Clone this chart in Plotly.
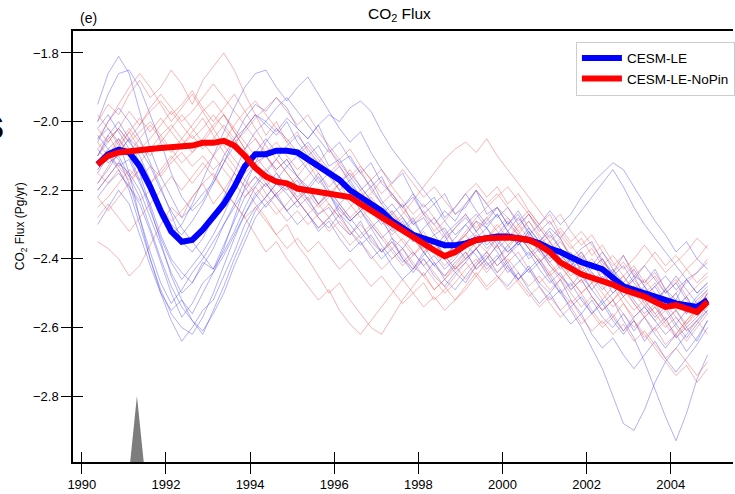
import numpy as np
import plotly.graph_objects as go

# ---------------- data ----------------
years = 1990.375 + 0.25 * np.arange(59)

mean_le = [
    -2.125, -2.095, -2.082, -2.090, -2.130, -2.190, -2.260, -2.320, -2.350, -2.345,
    -2.315, -2.280, -2.240, -2.190, -2.130, -2.095, -2.095, -2.085, -2.085, -2.090,
    -2.110, -2.130, -2.150, -2.170, -2.200, -2.220, -2.240, -2.260, -2.290, -2.310,
    -2.330, -2.340, -2.350, -2.360, -2.360, -2.355, -2.345, -2.340, -2.335, -2.335,
    -2.340, -2.345, -2.355, -2.370, -2.380, -2.395, -2.410, -2.420, -2.430, -2.455,
    -2.480, -2.490, -2.500, -2.510, -2.520, -2.530, -2.535, -2.540, -2.520]

mean_nopin = [
    -2.125, -2.100, -2.090, -2.088, -2.085, -2.080, -2.077, -2.075, -2.072, -2.070,
    -2.062, -2.062, -2.056, -2.070, -2.100, -2.135, -2.160, -2.175, -2.180, -2.195,
    -2.200, -2.205, -2.210, -2.212, -2.220, -2.240, -2.260, -2.280, -2.300, -2.315,
    -2.335, -2.355, -2.375, -2.392, -2.380, -2.360, -2.345, -2.340, -2.338, -2.338,
    -2.340, -2.345, -2.360, -2.380, -2.410, -2.430, -2.445, -2.455, -2.465, -2.475,
    -2.490, -2.500, -2.510, -2.525, -2.540, -2.535, -2.545, -2.555, -2.525]

le_members = [
    [-1.95, -1.86, -1.81, -1.86, -1.97, -2.08, -2.16, -2.22, -2.28, -2.25,
     -2.21, -2.18, -2.12, -2.05, -1.99, -1.95, -1.97, -1.93, -1.96, -2.02,
     -2.05, -2.01, -2.08, -2.12, -2.10, -2.15, -2.19, -2.16, -2.22, -2.25,
     -2.21, -2.27, -2.30, -2.26, -2.29, -2.24, -2.20, -2.27, -2.25, -2.30,
     -2.26, -2.31, -2.35, -2.31, -2.34, -2.40, -2.37, -2.35, -2.41, -2.44,
     -2.39, -2.45, -2.47, -2.43, -2.49, -2.52, -2.46, -2.50, -2.47],
    [-2.05, -2.02, -2.06, -2.15, -2.28, -2.40, -2.50, -2.58, -2.64, -2.60,
     -2.55, -2.52, -2.45, -2.38, -2.30, -2.25, -2.22, -2.18, -2.20, -2.17,
     -2.23, -2.27, -2.25, -2.30, -2.33, -2.29, -2.35, -2.38, -2.34, -2.40,
     -2.43, -2.38, -2.42, -2.45, -2.41, -2.38, -2.43, -2.40, -2.36, -2.42,
     -2.46, -2.43, -2.48, -2.52, -2.49, -2.55, -2.60, -2.66, -2.72, -2.80,
     -2.88, -2.90, -2.84, -2.76, -2.70, -2.66, -2.62, -2.58, -2.55],
    [-2.00, -1.92, -1.86, -1.85, -1.90, -1.98, -2.06, -2.15, -2.22, -2.26,
     -2.23, -2.17, -2.10, -2.05, -2.02, -1.98, -2.01, -2.04, -2.00, -2.06,
     -2.10, -2.07, -2.13, -2.11, -2.16, -2.20, -2.17, -2.23, -2.27, -2.24,
     -2.30, -2.28, -2.33, -2.31, -2.36, -2.33, -2.29, -2.31, -2.27, -2.32,
     -2.36, -2.33, -2.38, -2.35, -2.40, -2.38, -2.44, -2.41, -2.46, -2.43,
     -2.49, -2.45, -2.51, -2.48, -2.53, -2.50, -2.56, -2.52, -2.49],
    [-2.30, -2.25, -2.20, -2.24, -2.33, -2.42, -2.50, -2.55, -2.52, -2.58,
     -2.62, -2.55, -2.48, -2.40, -2.33, -2.26, -2.22, -2.18, -2.21, -2.25,
     -2.22, -2.28, -2.31, -2.27, -2.32, -2.36, -2.33, -2.38, -2.35, -2.40,
     -2.44, -2.40, -2.45, -2.48, -2.44, -2.47, -2.42, -2.39, -2.44, -2.41,
     -2.46, -2.43, -2.40, -2.45, -2.50, -2.47, -2.52, -2.56, -2.53, -2.58,
     -2.62, -2.58, -2.64, -2.60, -2.57, -2.63, -2.60, -2.64, -2.58],
    [-2.10, -2.05, -2.02, -2.06, -2.10, -2.17, -2.25, -2.30, -2.33, -2.29,
     -2.24, -2.18, -2.12, -2.07, -2.02, -1.98, -2.00, -2.03, -1.99, -2.02,
     -2.05, -2.01, -1.98, -2.00, -1.96, -1.94, -1.97, -2.03, -2.08, -2.12,
     -2.16, -2.20, -2.24, -2.21, -2.27, -2.25, -2.20, -2.24, -2.28, -2.25,
     -2.30, -2.27, -2.32, -2.29, -2.34, -2.30, -2.26, -2.22, -2.18, -2.14,
     -2.19, -2.25, -2.30, -2.34, -2.38, -2.42, -2.46, -2.44, -2.41],
    [-2.15, -2.10, -2.13, -2.11, -2.18, -2.24, -2.33, -2.40, -2.44, -2.47,
     -2.42, -2.37, -2.30, -2.24, -2.17, -2.12, -2.10, -2.14, -2.11, -2.16,
     -2.19, -2.15, -2.20, -2.24, -2.21, -2.26, -2.23, -2.28, -2.32, -2.29,
     -2.35, -2.31, -2.28, -2.33, -2.30, -2.27, -2.32, -2.29, -2.25, -2.30,
     -2.27, -2.33, -2.30, -2.26, -2.30, -2.27, -2.22, -2.18, -2.15, -2.12,
     -2.14, -2.19, -2.24, -2.29, -2.33, -2.38, -2.35, -2.40, -2.43],
    [-2.08, -2.12, -2.10, -2.16, -2.22, -2.31, -2.40, -2.48, -2.54, -2.58,
     -2.61, -2.56, -2.50, -2.42, -2.35, -2.28, -2.24, -2.21, -2.18, -2.22,
     -2.19, -2.24, -2.21, -2.26, -2.29, -2.26, -2.31, -2.28, -2.34, -2.37,
     -2.33, -2.38, -2.42, -2.39, -2.36, -2.40, -2.37, -2.42, -2.39, -2.44,
     -2.41, -2.38, -2.43, -2.47, -2.44, -2.49, -2.46, -2.51, -2.55, -2.52,
     -2.58, -2.63, -2.70, -2.78, -2.86, -2.93, -2.85, -2.75, -2.68],
    [-2.20, -2.16, -2.12, -2.15, -2.20, -2.28, -2.36, -2.44, -2.50, -2.47,
     -2.41, -2.43, -2.36, -2.29, -2.22, -2.18, -2.14, -2.17, -2.13, -2.16,
     -2.20, -2.24, -2.21, -2.27, -2.30, -2.34, -2.31, -2.36, -2.40, -2.37,
     -2.42, -2.45, -2.41, -2.46, -2.49, -2.45, -2.41, -2.38, -2.42, -2.39,
     -2.35, -2.40, -2.37, -2.42, -2.45, -2.48, -2.44, -2.49, -2.53, -2.50,
     -2.47, -2.52, -2.56, -2.53, -2.58, -2.55, -2.60, -2.57, -2.53],
    [-2.06, -2.00, -1.96, -2.00, -2.05, -2.12, -2.19, -2.27, -2.35, -2.38,
     -2.34, -2.28, -2.22, -2.15, -2.08, -2.03, -2.00, -1.96, -1.93, -1.97,
     -2.01, -2.05, -2.09, -2.06, -2.11, -2.15, -2.12, -2.18, -2.21, -2.25,
     -2.22, -2.27, -2.24, -2.29, -2.33, -2.30, -2.34, -2.31, -2.36, -2.32,
     -2.28, -2.32, -2.36, -2.40, -2.37, -2.42, -2.39, -2.44, -2.47, -2.44,
     -2.49, -2.46, -2.42, -2.46, -2.50, -2.47, -2.52, -2.55, -2.50],
    [-2.12, -2.08, -2.11, -2.18, -2.28, -2.38, -2.47, -2.53, -2.49, -2.44,
     -2.40, -2.35, -2.30, -2.25, -2.20, -2.16, -2.19, -2.15, -2.19, -2.23,
     -2.20, -2.16, -2.21, -2.25, -2.29, -2.26, -2.30, -2.34, -2.31, -2.28,
     -2.33, -2.37, -2.34, -2.39, -2.43, -2.40, -2.37, -2.34, -2.38, -2.43,
     -2.46, -2.42, -2.47, -2.50, -2.46, -2.52, -2.56, -2.52, -2.57, -2.60,
     -2.56, -2.61, -2.57, -2.62, -2.66, -2.62, -2.67, -2.63, -2.58],
    [-2.18, -2.14, -2.09, -2.05, -2.08, -2.13, -2.20, -2.26, -2.31, -2.35,
     -2.39, -2.43, -2.38, -2.32, -2.25, -2.19, -2.15, -2.11, -2.07, -2.04,
     -2.08, -2.12, -2.16, -2.13, -2.18, -2.22, -2.19, -2.24, -2.28, -2.32,
     -2.29, -2.34, -2.38, -2.35, -2.31, -2.28, -2.32, -2.36, -2.33, -2.29,
     -2.33, -2.37, -2.41, -2.38, -2.43, -2.40, -2.45, -2.49, -2.45, -2.50,
     -2.47, -2.43, -2.48, -2.52, -2.49, -2.54, -2.51, -2.56, -2.52],
    [-2.02, -1.98, -2.03, -2.08, -2.15, -2.25, -2.35, -2.45, -2.52, -2.56,
     -2.50, -2.44, -2.37, -2.28, -2.19, -2.12, -2.06, -2.02, -2.05, -2.09,
     -2.06, -2.10, -2.14, -2.18, -2.15, -2.19, -2.23, -2.27, -2.24, -2.28,
     -2.32, -2.36, -2.33, -2.37, -2.34, -2.30, -2.27, -2.31, -2.35, -2.38,
     -2.35, -2.39, -2.36, -2.33, -2.37, -2.41, -2.45, -2.42, -2.38, -2.43,
     -2.47, -2.51, -2.48, -2.53, -2.49, -2.45, -2.49, -2.53, -2.56],
    [-2.10, -2.04, -2.00, -2.05, -2.12, -2.20, -2.28, -2.33, -2.30, -2.24,
     -2.17, -2.10, -2.03, -1.96, -1.90, -1.86, -1.85, -1.90, -1.94, -1.90,
     -1.87, -1.92, -1.97, -2.02, -2.06, -2.03, -2.09, -2.14, -2.18, -2.15,
     -2.21, -2.25, -2.22, -2.28, -2.25, -2.21, -2.26, -2.30, -2.27, -2.32,
     -2.36, -2.32, -2.37, -2.41, -2.38, -2.43, -2.40, -2.45, -2.49, -2.46,
     -2.51, -2.48, -2.53, -2.57, -2.54, -2.59, -2.55, -2.51, -2.48],
    [-2.14, -2.10, -2.14, -2.20, -2.30, -2.40, -2.49, -2.56, -2.60, -2.62,
     -2.57, -2.50, -2.42, -2.34, -2.27, -2.21, -2.25, -2.21, -2.26, -2.30,
     -2.27, -2.32, -2.29, -2.34, -2.38, -2.35, -2.40, -2.37, -2.42, -2.46,
     -2.43, -2.39, -2.35, -2.40, -2.44, -2.41, -2.37, -2.41, -2.45, -2.48,
     -2.44, -2.49, -2.53, -2.50, -2.55, -2.59, -2.56, -2.62, -2.66, -2.63,
     -2.68, -2.72, -2.68, -2.64, -2.69, -2.73, -2.69, -2.65, -2.60],
    [-2.04, -2.08, -2.05, -2.10, -2.17, -2.26, -2.34, -2.41, -2.46, -2.42,
     -2.38, -2.33, -2.27, -2.20, -2.14, -2.09, -2.05, -2.09, -2.13, -2.10,
     -2.14, -2.18, -2.15, -2.20, -2.17, -2.22, -2.26, -2.30, -2.27, -2.31,
     -2.28, -2.34, -2.37, -2.33, -2.39, -2.36, -2.33, -2.37, -2.34, -2.38,
     -2.35, -2.31, -2.35, -2.32, -2.37, -2.41, -2.38, -2.43, -2.40, -2.45,
     -2.42, -2.47, -2.51, -2.48, -2.45, -2.49, -2.46, -2.50, -2.47],
    [-2.22, -2.18, -2.15, -2.19, -2.24, -2.32, -2.41, -2.50, -2.57, -2.53,
     -2.47, -2.44, -2.39, -2.33, -2.27, -2.22, -2.18, -2.22, -2.26, -2.23,
     -2.27, -2.31, -2.28, -2.24, -2.28, -2.32, -2.36, -2.40, -2.37, -2.41,
     -2.38, -2.42, -2.39, -2.43, -2.40, -2.36, -2.39, -2.43, -2.40, -2.36,
     -2.40, -2.44, -2.41, -2.46, -2.50, -2.54, -2.51, -2.56, -2.52, -2.57,
     -2.61, -2.57, -2.54, -2.58, -2.62, -2.59, -2.63, -2.59, -2.55],
]

nopin_members = [
    [-2.00, -1.95, -1.98, -1.92, -1.88, -1.93, -1.90, -1.85, -1.89, -1.95,
     -1.88, -1.84, -1.80, -1.85, -1.92, -1.98, -2.04, -2.00, -2.06, -2.03,
     -2.09, -2.12, -2.08, -2.13, -2.17, -2.14, -2.20, -2.24, -2.21, -2.26,
     -2.30, -2.27, -2.32, -2.29, -2.25, -2.21, -2.18, -2.22, -2.19, -2.24,
     -2.21, -2.26, -2.30, -2.27, -2.33, -2.37, -2.34, -2.39, -2.36, -2.41,
     -2.45, -2.42, -2.47, -2.44, -2.49, -2.46, -2.51, -2.48, -2.45],
    [-2.35, -2.37, -2.40, -2.45, -2.42, -2.36, -2.30, -2.25, -2.28, -2.22,
     -2.18, -2.24, -2.20, -2.15, -2.19, -2.24, -2.28, -2.33, -2.30, -2.36,
     -2.40, -2.45, -2.50, -2.47, -2.52, -2.56, -2.60, -2.62, -2.57, -2.52,
     -2.48, -2.44, -2.49, -2.46, -2.42, -2.38, -2.43, -2.40, -2.36, -2.41,
     -2.38, -2.43, -2.47, -2.44, -2.49, -2.53, -2.50, -2.55, -2.59, -2.56,
     -2.61, -2.58, -2.63, -2.60, -2.65, -2.62, -2.58, -2.55, -2.51],
    [-2.05, -2.00, -1.95, -1.90, -1.86, -1.90, -1.95, -2.00, -1.96, -1.92,
     -1.97, -2.02, -1.98, -2.03, -2.08, -2.05, -2.10, -2.14, -2.11, -2.16,
     -2.12, -2.17, -2.21, -2.18, -2.23, -2.20, -2.25, -2.29, -2.26, -2.31,
     -2.35, -2.32, -2.37, -2.40, -2.36, -2.32, -2.28, -2.25, -2.22, -2.19,
     -2.23, -2.27, -2.31, -2.35, -2.39, -2.42, -2.38, -2.43, -2.40, -2.45,
     -2.49, -2.46, -2.50, -2.47, -2.52, -2.55, -2.51, -2.56, -2.53],
    [-2.15, -2.18, -2.14, -2.19, -2.23, -2.20, -2.25, -2.29, -2.26, -2.22,
     -2.18, -2.15, -2.20, -2.24, -2.28, -2.33, -2.38, -2.35, -2.40, -2.44,
     -2.48, -2.52, -2.49, -2.55, -2.59, -2.62, -2.58, -2.54, -2.50, -2.46,
     -2.50, -2.47, -2.52, -2.49, -2.45, -2.41, -2.45, -2.49, -2.46, -2.42,
     -2.47, -2.51, -2.48, -2.53, -2.57, -2.54, -2.59, -2.56, -2.60, -2.57,
     -2.53, -2.58, -2.62, -2.66, -2.70, -2.74, -2.71, -2.76, -2.72],
    [-2.10, -2.06, -2.02, -2.06, -2.03, -2.00, -2.04, -2.01, -2.05, -2.09,
     -2.06, -2.02, -2.07, -2.11, -2.15, -2.12, -2.17, -2.21, -2.18, -2.23,
     -2.19, -2.24, -2.28, -2.25, -2.29, -2.26, -2.22, -2.26, -2.30, -2.27,
     -2.23, -2.19, -2.15, -2.11, -2.08, -2.06, -2.09, -2.05, -2.10, -2.14,
     -2.18, -2.22, -2.26, -2.30, -2.27, -2.32, -2.36, -2.33, -2.38, -2.42,
     -2.39, -2.44, -2.48, -2.45, -2.50, -2.47, -2.43, -2.47, -2.44],
    [-2.20, -2.16, -2.12, -2.16, -2.12, -2.08, -2.04, -2.08, -2.12, -2.09,
     -2.05, -2.01, -1.98, -2.03, -2.08, -2.13, -2.10, -2.15, -2.19, -2.16,
     -2.21, -2.25, -2.22, -2.18, -2.14, -2.19, -2.23, -2.27, -2.31, -2.35,
     -2.39, -2.36, -2.41, -2.45, -2.42, -2.46, -2.42, -2.38, -2.34, -2.30,
     -2.33, -2.29, -2.34, -2.38, -2.42, -2.46, -2.50, -2.47, -2.52, -2.48,
     -2.53, -2.57, -2.54, -2.58, -2.55, -2.60, -2.64, -2.60, -2.56],
    [-2.08, -2.04, -2.09, -2.05, -2.01, -1.97, -1.94, -1.98, -1.95, -1.91,
     -1.96, -2.00, -1.96, -1.92, -1.97, -2.02, -2.07, -2.11, -2.15, -2.19,
     -2.16, -2.12, -2.16, -2.20, -2.24, -2.28, -2.25, -2.29, -2.33, -2.30,
     -2.34, -2.38, -2.35, -2.39, -2.36, -2.33, -2.29, -2.34, -2.31, -2.28,
     -2.32, -2.36, -2.40, -2.44, -2.41, -2.45, -2.42, -2.46, -2.50, -2.54,
     -2.51, -2.55, -2.52, -2.56, -2.60, -2.57, -2.61, -2.58, -2.54],
    [-2.25, -2.22, -2.18, -2.14, -2.17, -2.13, -2.16, -2.12, -2.09, -2.13,
     -2.10, -2.14, -2.11, -2.15, -2.19, -2.16, -2.21, -2.25, -2.29, -2.26,
     -2.30, -2.27, -2.24, -2.28, -2.32, -2.35, -2.39, -2.43, -2.40, -2.37,
     -2.41, -2.45, -2.49, -2.46, -2.43, -2.39, -2.35, -2.38, -2.42, -2.39,
     -2.36, -2.32, -2.37, -2.41, -2.45, -2.49, -2.46, -2.51, -2.55, -2.52,
     -2.48, -2.53, -2.57, -2.54, -2.59, -2.63, -2.59, -2.55, -2.50],
    [-1.98, -2.02, -2.07, -2.03, -2.08, -2.05, -2.01, -1.97, -2.01, -2.05,
     -2.02, -1.98, -2.02, -2.06, -2.03, -1.99, -1.96, -1.93, -1.97, -2.01,
     -1.98, -2.03, -2.07, -2.11, -2.08, -2.13, -2.17, -2.14, -2.19, -2.23,
     -2.27, -2.24, -2.28, -2.32, -2.36, -2.33, -2.37, -2.34, -2.30, -2.34,
     -2.31, -2.27, -2.31, -2.35, -2.32, -2.36, -2.40, -2.37, -2.42, -2.39,
     -2.43, -2.40, -2.36, -2.40, -2.44, -2.41, -2.38, -2.34, -2.37],
    [-2.12, -2.09, -2.13, -2.17, -2.14, -2.18, -2.15, -2.11, -2.07, -2.04,
     -2.08, -2.05, -2.01, -2.05, -2.10, -2.14, -2.18, -2.22, -2.19, -2.23,
     -2.27, -2.24, -2.20, -2.24, -2.28, -2.25, -2.29, -2.33, -2.37, -2.34,
     -2.38, -2.42, -2.46, -2.50, -2.47, -2.43, -2.40, -2.44, -2.40, -2.37,
     -2.33, -2.37, -2.41, -2.45, -2.42, -2.46, -2.50, -2.47, -2.43, -2.47,
     -2.51, -2.48, -2.52, -2.56, -2.53, -2.57, -2.61, -2.58, -2.62],
    [-2.18, -2.13, -2.08, -2.03, -1.99, -2.03, -1.99, -2.03, -2.07, -2.03,
     -1.99, -2.04, -2.09, -2.13, -2.17, -2.21, -2.18, -2.22, -2.26, -2.23,
     -2.27, -2.31, -2.28, -2.32, -2.36, -2.33, -2.30, -2.34, -2.38, -2.42,
     -2.39, -2.35, -2.38, -2.42, -2.39, -2.35, -2.32, -2.28, -2.25, -2.28,
     -2.32, -2.29, -2.33, -2.37, -2.34, -2.39, -2.43, -2.47, -2.44, -2.48,
     -2.45, -2.50, -2.54, -2.51, -2.55, -2.52, -2.56, -2.53, -2.49],
    [-2.02, -2.06, -2.02, -1.97, -2.01, -1.96, -1.92, -1.96, -2.00, -1.97,
     -1.93, -1.89, -1.93, -1.97, -2.01, -2.05, -2.09, -2.06, -2.10, -2.14,
     -2.11, -2.15, -2.19, -2.16, -2.20, -2.24, -2.21, -2.17, -2.21, -2.25,
     -2.29, -2.26, -2.30, -2.34, -2.31, -2.27, -2.31, -2.28, -2.32, -2.36,
     -2.33, -2.37, -2.41, -2.38, -2.35, -2.39, -2.43, -2.40, -2.44, -2.48,
     -2.45, -2.49, -2.46, -2.50, -2.54, -2.50, -2.47, -2.44, -2.40],
    [-2.06, -2.10, -2.06, -2.02, -2.06, -2.10, -2.06, -2.02, -1.98, -2.02,
     -2.06, -2.10, -2.06, -2.01, -1.97, -1.94, -1.98, -2.02, -2.06, -2.10,
     -2.07, -2.11, -2.15, -2.12, -2.16, -2.13, -2.17, -2.21, -2.18, -2.14,
     -2.18, -2.22, -2.19, -2.23, -2.27, -2.24, -2.20, -2.24, -2.21, -2.25,
     -2.29, -2.26, -2.30, -2.34, -2.31, -2.35, -2.32, -2.36, -2.40, -2.44,
     -2.41, -2.45, -2.42, -2.38, -2.42, -2.39, -2.43, -2.40, -2.36],
    [-2.28, -2.24, -2.28, -2.32, -2.28, -2.24, -2.20, -2.16, -2.20, -2.16,
     -2.12, -2.16, -2.20, -2.24, -2.28, -2.25, -2.29, -2.33, -2.37, -2.34,
     -2.38, -2.35, -2.39, -2.43, -2.40, -2.44, -2.48, -2.45, -2.49, -2.53,
     -2.50, -2.54, -2.51, -2.55, -2.52, -2.48, -2.44, -2.48, -2.45, -2.49,
     -2.46, -2.50, -2.54, -2.51, -2.55, -2.52, -2.57, -2.61, -2.58, -2.62,
     -2.59, -2.64, -2.61, -2.65, -2.69, -2.66, -2.70, -2.74, -2.70],
    [-2.14, -2.10, -2.05, -2.09, -2.05, -2.01, -2.05, -2.09, -2.05, -2.01,
     -1.97, -1.94, -1.98, -2.02, -2.06, -2.10, -2.14, -2.11, -2.15, -2.19,
     -2.23, -2.20, -2.24, -2.28, -2.25, -2.21, -2.25, -2.29, -2.26, -2.30,
     -2.34, -2.38, -2.35, -2.39, -2.43, -2.40, -2.37, -2.33, -2.37, -2.34,
     -2.30, -2.34, -2.38, -2.42, -2.46, -2.43, -2.47, -2.44, -2.48, -2.52,
     -2.49, -2.53, -2.57, -2.54, -2.58, -2.55, -2.59, -2.56, -2.52],
    [-2.22, -2.26, -2.22, -2.18, -2.14, -2.18, -2.14, -2.10, -2.14, -2.18,
     -2.14, -2.10, -2.14, -2.18, -2.22, -2.19, -2.23, -2.27, -2.24, -2.20,
     -2.24, -2.28, -2.32, -2.29, -2.33, -2.30, -2.34, -2.38, -2.35, -2.39,
     -2.43, -2.40, -2.44, -2.48, -2.52, -2.49, -2.45, -2.41, -2.44, -2.40,
     -2.44, -2.48, -2.45, -2.49, -2.46, -2.50, -2.54, -2.51, -2.55, -2.52,
     -2.56, -2.60, -2.57, -2.61, -2.58, -2.62, -2.58, -2.54, -2.50],
]

# Pinatubo eruption marker (triangle)
erupt_x = [1991.10, 1991.31, 1991.52]
erupt_y = [-3.05, -2.80, -3.05]

tick_years = [1990, 1992, 1994, 1996, 1998, 2000, 2002, 2004]
tick_flux = [-1.8, -2.0, -2.2, -2.4, -2.6, -2.8]
series_names = ["CESM-LE", "CESM-LE-NoPin"]

# ---------------- figure ----------------
FONT = "Liberation Sans, Arial, Helvetica, sans-serif"
xr = [1989.79, 2005.48]
yr = [-2.992, -1.736]

fig = go.Figure()

for i in range(max(len(le_members), len(nopin_members))):
    if i < len(le_members):
        v = le_members[i]
        fig.add_trace(go.Scatter(x=years[:len(v)], y=v, mode="lines",
                                 line=dict(color="rgba(70,70,235,0.42)", width=1),
                                 showlegend=False, hoverinfo="skip"))
    if i < len(nopin_members):
        v = nopin_members[i]
        fig.add_trace(go.Scatter(x=years[:len(v)], y=v, mode="lines",
                                 line=dict(color="rgba(238,80,80,0.42)", width=1),
                                 showlegend=False, hoverinfo="skip"))

fig.add_trace(go.Scatter(x=years, y=mean_le, mode="lines", name=series_names[0],
                         line=dict(color="rgb(0,0,255)", width=6)))
fig.add_trace(go.Scatter(x=years, y=mean_nopin, mode="lines", name=series_names[1],
                         line=dict(color="rgb(255,0,0)", width=6)))

fig.add_trace(go.Scatter(x=erupt_x, y=erupt_y, mode="lines", fill="toself",
                         fillcolor="rgb(125,125,125)", line=dict(width=0, color="rgb(125,125,125)"),
                         showlegend=False, hoverinfo="skip"))

# invisible trace for the overlay axes (inner half of the crossing tick marks)
fig.add_trace(go.Scatter(x=[tick_years[0]], y=[tick_flux[0]], xaxis="x2", yaxis="y2",
                         mode="markers", marker=dict(opacity=0), showlegend=False,
                         hoverinfo="skip"))

tick_style = dict(tickcolor="black", tickwidth=1.3, ticklen=10)
label_font = dict(family=FONT, size=13, color="black")

fig.update_layout(
    width=735, height=494,
    margin=dict(l=73, r=0, t=31, b=32, pad=0),
    paper_bgcolor="white", plot_bgcolor="white",
    font=dict(family=FONT, size=13, color="black"),
    xaxis=dict(range=xr, tickmode="array", tickvals=tick_years, ticks="outside",
               tickfont=label_font, showline=True, mirror=True, linecolor="black",
               linewidth=1.5, showgrid=False, zeroline=False, **tick_style),
    yaxis=dict(range=yr, tickmode="array", tickvals=tick_flux, tickformat=".1f",
               ticks="outside", tickfont=label_font, showline=True, mirror=False,
               linecolor="black", linewidth=1.5, showgrid=False, zeroline=False,
               **tick_style),
    xaxis2=dict(range=xr, overlaying="x", anchor="y", side="bottom",
                tickmode="array", tickvals=tick_years, ticks="inside",
                showticklabels=False, showline=False, showgrid=False, zeroline=False,
                **tick_style),
    yaxis2=dict(range=yr, overlaying="y", anchor="x", side="left",
                tickmode="array", tickvals=tick_flux, ticks="inside",
                showticklabels=False, showline=False, showgrid=False, zeroline=False,
                **tick_style),
    legend=dict(x=0.762, y=0.975, xanchor="left", yanchor="top",
                bordercolor="rgb(205,205,205)", borderwidth=1, bgcolor="white",
                font=dict(family=FONT, size=13.5, color="black"),
                tracegroupgap=0, itemwidth=40),
    showlegend=True,
)

fig.add_annotation(text="CO<sub>2</sub> Flux", xref="paper", yref="paper",
                   x=0.494, y=1.0, yanchor="bottom", yshift=5, showarrow=False,
                   font=dict(family=FONT, size=15.5, color="black"))
fig.add_annotation(text="(e)", xref="paper", yref="paper",
                   x=(78 - 73) / 662, y=1.0, xanchor="left", yanchor="bottom", yshift=3,
                   showarrow=False, font=dict(family=FONT, size=14, color="black"))
fig.add_annotation(text="CO<sub>2</sub> Flux (Pg/yr)", xref="paper", yref="paper",
                   x=(21 - 73) / 662, y=(462 - 226) / 431, textangle=-90,
                   xanchor="center", yanchor="middle", showarrow=False,
                   font=dict(family=FONT, size=12, color="black"))
fig.add_annotation(text="<b>s</b>", xref="paper", yref="paper",
                   x=(6 - 73) / 662, y=(462 - 124) / 431, xanchor="right",
                   yanchor="middle", showarrow=False,
                   font=dict(family=FONT, size=42, color="black"))

fig.write_html("out.html")
